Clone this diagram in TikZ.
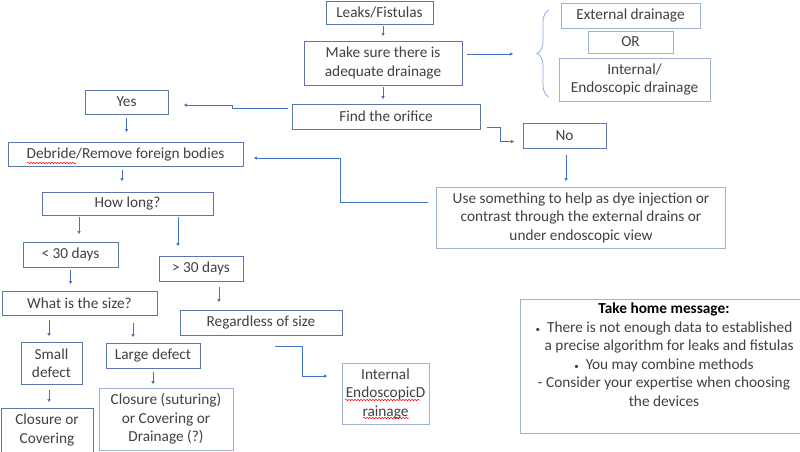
\documentclass[tikz,border=0pt]{standalone}
\usepackage{fontspec}
\setmainfont{Carlito}
\usetikzlibrary{calc,arrows.meta,decorations.pathreplacing,decorations.pathmorphing}
\definecolor{boxcol}{HTML}{5B76A8}
\definecolor{lightbox}{HTML}{9FB2D6}
\definecolor{arrcol}{HTML}{4472C4}
\definecolor{txtcol}{HTML}{404040}
\definecolor{bracecol}{HTML}{8FAADC}
\tikzset{
  flowbox/.style={draw=boxcol, line width=0.9pt, inner sep=0pt, align=center,
    text=txtcol, font=\fontsize{15.3}{18.5}\selectfont},
  arr/.style={draw=arrcol, line width=0.8pt, -{Latex[length=3.5pt,width=3.5pt]}},
  spell/.style={draw=red, line width=0.5pt, decorate,
    decoration={snake, segment length=3pt, amplitude=0.7pt}}
}
\begin{document}
\begin{tikzpicture}[x=1pt,y=-1pt]
\useasboundingbox (0,0) rectangle (800,451);
% boxes
\node[flowbox, minimum width=107pt, minimum height=23pt] (leaks) at (379.5,12.5) {Leaks/Fistulas};
\node[flowbox, minimum width=158pt, minimum height=44pt] (make) at (383,63) {Make sure there is\\adequate drainage};
\node[flowbox, draw=lightbox, minimum width=139pt, minimum height=25pt] (ext) at (630.5,15.5) {External drainage};
\node[flowbox, draw=lightbox, minimum width=85pt, minimum height=22pt] (or) at (630.5,42) {OR};
\node[flowbox, draw=lightbox, minimum width=151pt, minimum height=43pt] (int) at (634.5,79.5) {Internal/\\Endoscopic drainage};
\node[flowbox, minimum width=188pt, minimum height=25pt] (find) at (386,116.5) {Find the orifice};
\node[flowbox, minimum width=83pt, minimum height=24pt] (yes) at (126.5,102) {Yes};
\node[flowbox, minimum width=83pt, minimum height=25pt] (no) at (564.5,135.5) {No};
\node[flowbox, draw=lightbox, minimum width=289pt, minimum height=61pt] (use) at (581,217.5) {Use something to help as dye injection or\\contrast through the external drains or\\under endoscopic view};
\node[flowbox, minimum width=235pt, minimum height=24pt] (debride) at (125.5,154) {Debride/Remove foreign bodies};
\node[flowbox, minimum width=171pt, minimum height=23pt] (howlong) at (127.5,203.5) {How long?};
\node[flowbox, minimum width=95pt, minimum height=25pt] (lt30) at (70.5,254.5) {< 30 days};
\node[flowbox, minimum width=84pt, minimum height=25pt] (gt30) at (201,268.5) {> 30 days};
\node[flowbox, minimum width=155pt, minimum height=24pt] (size) at (79.5,303) {What is the size?};
\node[flowbox, minimum width=162pt, minimum height=25pt] (regardless) at (261,322.5) {Regardless of size};
\node[flowbox, minimum width=61pt, minimum height=42pt] (small) at (51.5,363) {Small\\defect};
\node[flowbox, minimum width=94pt, minimum height=25pt] (large) at (153,355.5) {Large defect};
\node[flowbox, minimum width=92pt, minimum height=44pt] (closure1) at (47,430) {Closure or\\Covering};
\node[flowbox, draw=lightbox, minimum width=134pt, minimum height=62pt] (closure2) at (166,419) {Closure (suturing)\\or Covering or\\Drainage (?)};
\node[flowbox, draw=lightbox, minimum width=87pt, minimum height=61pt] (internal) at (385.5,393.5) {Internal\\EndoscopicD\\rainage};
\node[flowbox, draw=lightbox, minimum width=285pt, minimum height=134pt] (takehome) at (662.5,366) {};
\node[text=txtcol, align=center, inner sep=0pt, anchor=north, font=\fontsize{15.3}{18.5}\selectfont] (thmtext) at (664,303)
  {{\color{black}\textbf{Take home message:}}\\
   {\small\textbullet}\ \ There is not enough data to established\\
   \ \ \ a precise algorithm for leaks and fistulas\\
   {\small\textbullet}\ \ You may combine methods\\
   - Consider your expertise when choosing\\
   the devices};
% brace
\coordinate (bracetop) at (549,10);
\coordinate (bracebot) at (549,97);
\draw[bracecol, line width=0.8pt, decorate, decoration={brace, amplitude=12pt}] (bracebot) -- (bracetop);
% connectors
\draw[arr] ([xshift=3.5pt,yshift=-2pt]leaks.south) -- ($(make.north)+(0,-4)$);
\draw[arr] ([xshift=5pt,yshift=9pt]make.east) -- ++(46,0);
\draw[arr] ([yshift=-2pt]make.south) -- ($(make.south |- find.north)+(0,-4)$);
\draw[arr] ([xshift=-4pt,yshift=8pt]find.west) -- ++(-55,0) |- ([xshift=15pt,yshift=-3pt]yes.east);
\draw[arr] ([xshift=7pt,yshift=-11pt]find.east) -- ++(13,0) |- ([xshift=-8pt,yshift=-6pt]no.west);
\draw[arr] ([xshift=1.5pt,yshift=-7pt]no.south) -- ($(no.south |- use.north)+(1.5,-5)$);
\draw[arr] ([xshift=-8pt,yshift=15.5pt]use.west) -- ++(-88,0) |- ([xshift=10pt,yshift=-4pt]debride.east);
\draw[arr] ([yshift=-4pt]yes.south) -- ($(yes.south |- debride.north)+(0,-9)$);
\draw[arr] ([xshift=-3.5pt,yshift=-4pt]debride.south) -- ($(debride.south |- howlong.north)+(-3.5,-10)$);
\draw[arr] ([xshift=-48.5pt,yshift=-2pt]howlong.south) -- ($(howlong.south |- lt30.north)+(-48.5,-7)$);
\draw[arr] ([xshift=50.5pt,yshift=-2pt]howlong.south) -- ($(howlong.south |- gt30.north)+(50.5,-9)$);
\draw[arr] ([yshift=-3pt]lt30.south) -- ($(lt30.south |- size.north)+(0,-6)$);
\draw[arr] ([xshift=18pt,yshift=-6pt]gt30.south) -- ($(gt30.south |- regardless.north)+(18,-7)$);
\draw[arr] ([xshift=-30.5pt,yshift=-5pt]size.south) -- ($(size.south |- small.north)+(-30.5,-5)$);
\draw[arr] ([xshift=53.5pt,yshift=-8pt]size.south) -- ($(size.south |- large.north)+(53.5,-5)$);
\draw[arr] ([xshift=-2.5pt,yshift=-6pt]small.south) -- ($(small.south |- closure1.north)+(-2.5,-5)$);
\draw[arr] ([yshift=-4pt]large.south) -- ($(large.south |- closure2.north)+(0,-3)$);
\draw[arr] ([xshift=14pt,yshift=-11pt]regardless.south) -- ++(27,0) |- ([xshift=-14pt,yshift=17.5pt]internal.west);
% spell-check underlines
\draw[spell] (27,163) -- (76,163);
\draw[spell] (345,400) -- (420,400);
\draw[spell] (363,418) -- (409,418);
\end{tikzpicture}
\end{document}
